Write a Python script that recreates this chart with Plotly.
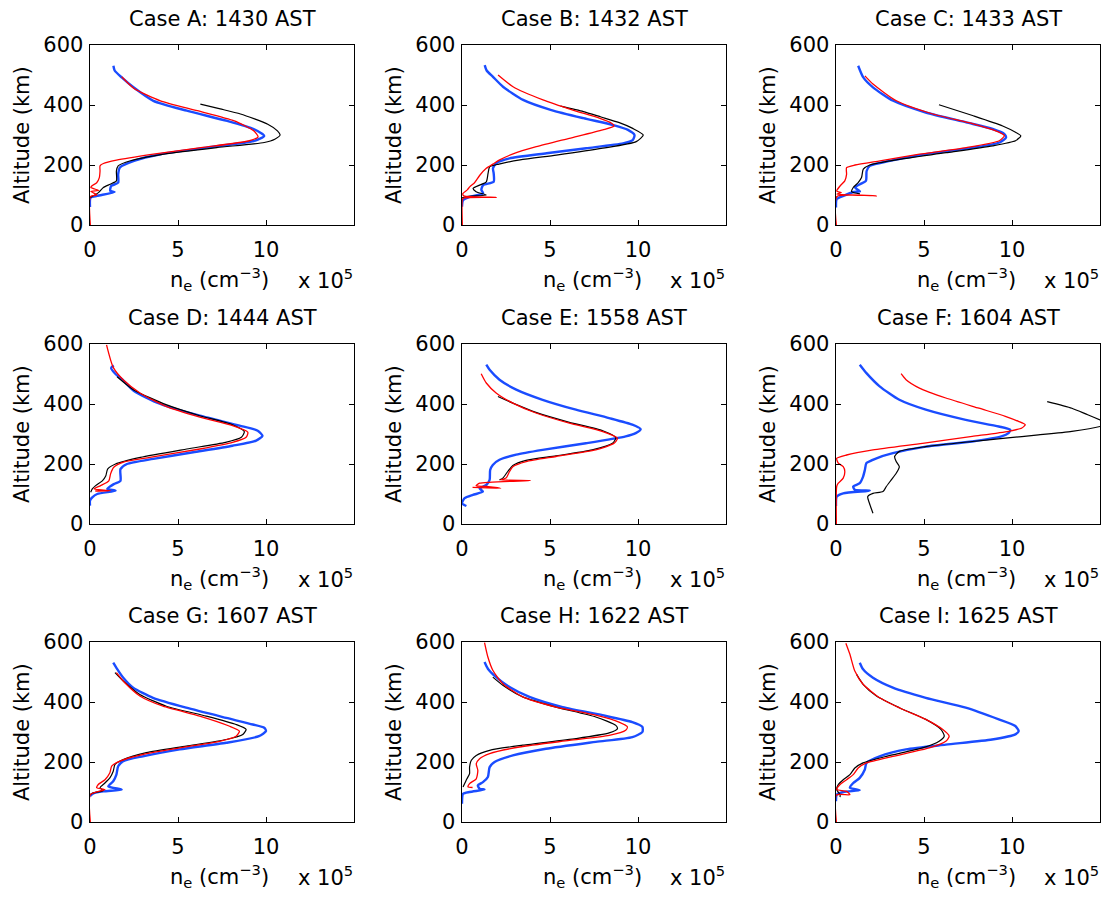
import plotly.graph_objects as go

# ---------------- data: (ne [x1e5 cm^-3], altitude [km]) ----------------
CASES = ["Case A: 1430 AST", "Case B: 1432 AST", "Case C: 1433 AST",
         "Case D: 1444 AST", "Case E: 1558 AST", "Case F: 1604 AST",
         "Case G: 1607 AST", "Case H: 1622 AST", "Case I: 1625 AST"]

X_TICKS = [0, 5, 10]
Y_TICKS = [0, 200, 400, 600]

A_BLUE = [(1.33,531),(1.4,515),(1.8,492),(2.47,459),(3.6,414),(5.5,381),(7.8,347),(9.3,320),(9.9,297),(9.3,280),(6.65,258),(4.0,236),(2.5,214),(1.7,192),(1.6,169),(1.6,141),(1.2,130),(1.15,114),(1.4,110),(0.4,97),(0.03,91),(0.0,60)]
A_RED = [(1.8,494),(2.5,455),(4.0,414),(6.1,381),(8.2,347),(9.3,314),(9.55,294),(9.0,280),(6.3,258),(3.6,236),(1.5,216),(0.76,205),(0.57,197),(0.57,180),(0.53,158),(0.38,141),(0.1,130),(0.05,125),(0.5,115),(0.05,112),(0.4,100),(0.02,95),(0.02,0)]
A_BLACK = [(6.27,403),(7.4,387),(8.55,370),(10.1,336),(10.65,314),(10.8,300),(10.5,286),(9.9,275),(7.2,258),(4.2,236),(2.3,214),(1.6,197),(1.5,180),(1.5,147),(1.15,136),(0.76,125),(0.48,108),(0.0,91)]

B_BLUE = [(1.29,533),(1.4,515),(1.76,494),(2.33,461),(3.47,417),(5.08,383),(6.9,356),(8.6,333),(9.43,317),(9.8,300),(9.7,283),(9.15,272),(7.06,256),(4.8,239),(2.7,222),(1.95,206),(1.76,189),(1.8,172),(1.8,144),(1.2,133),(1.1,117),(1.2,106),(0.44,94),(0.06,83),(0.0,61)]
B_RED = [(2.05,500),(2.9,461),(4.6,417),(6.3,383),(7.8,356),(8.5,339),(8.64,330),(8.0,317),(6.1,289),(4.22,261),(2.9,237),(2.14,217),(1.76,203),(1.38,189),(1.0,165),(0.7,140),(0.45,128),(0.3,117),(0.05,105),(0.1,97),(1.95,92),(0.1,90),(0.02,85),(0.02,0)]
B_BLACK = [(5.6,396),(6.9,378),(7.9,360),(8.9,342),(9.7,322),(10.3,300),(9.9,278),(8.0,256),(5.36,233),(3.3,217),(2.1,203),(1.57,194),(1.48,172),(1.38,144),(1.0,133),(0.63,122),(0.8,111),(1.38,100),(0.3,95),(0.0,90)]

C_BLUE = [(1.26,531),(1.55,492),(2.1,459),(3.25,414),(5.1,375),(7.4,342),(8.9,320),(9.57,303),(9.66,292),(9.3,275),(7.8,258),(5.1,236),(3.06,214),(1.92,197),(1.74,180),(1.7,147),(1.36,136),(1.08,125),(1.36,112),(1.0,110),(0.42,97),(0.04,86),(0.0,58)]
C_RED = [(1.64,497),(2.1,470),(3.43,414),(5.5,370),(7.8,337),(9.28,309),(9.57,298),(9.28,281),(7.4,258),(4.75,236),(2.5,214),(1.08,200),(0.6,191),(0.6,169),(0.5,147),(0.23,130),(0.04,113),(0.3,108),(0.05,103),(2.3,97),(0.05,95),(0.02,0)]
C_BLACK = [(5.85,401),(7.8,364),(9.47,330),(10.2,309),(10.5,297),(10.2,281),(8.9,264),(6.26,241),(3.6,219),(1.92,200),(1.55,186),(1.45,158),(1.26,141),(0.98,125),(0.89,111),(1.36,104)]

D_BLUE = [(1.35,528),(1.2,520),(1.45,500),(1.9,478),(2.48,444),(4.0,400),(6.24,361),(8.5,328),(9.53,311),(9.8,294),(9.44,278),(8.1,261),(5.86,239),(3.6,217),(2.1,200),(1.73,183),(1.73,144),(1.35,133),(0.98,117),(1.45,111),(0.41,100),(0.13,89),(0.0,78),(0.0,61)]
D_RED = [(0.94,597),(1.32,522),(1.9,480),(2.86,436),(4.36,391),(6.24,356),(8.1,328),(8.97,306),(8.87,289),(8.1,272),(6.24,250),(3.4,222),(1.9,206),(1.35,189),(1.17,167),(1.07,144),(0.6,128),(0.23,117),(1.17,111),(0.3,110)]
D_BLACK = [(1.54,491),(2.48,447),(4.36,397),(6.24,361),(8.1,331),(8.77,308),(8.6,289),(7.7,272),(5.5,250),(2.86,222),(1.45,200),(1.0,183),(0.9,161),(0.7,144),(0.32,128),(0.13,117),(0.04,106)]

E_BLUE = [(1.38,531),(1.57,514),(2.13,481),(3.08,448),(4.58,414),(6.47,381),(8.36,353),(9.68,331),(10.15,316),(9.87,303),(9.3,292),(7.04,269),(4.58,247),(3.08,231),(2.13,214),(1.75,197),(1.6,180),(1.57,147),(1.38,130),(1.0,119),(1.19,108),(0.62,97),(0.15,86),(0.0,69),(0.25,60)]
E_RED = [(1.09,501),(1.38,470),(1.94,437),(2.89,403),(4.2,370),(6.1,336),(8.0,308),(8.83,286),(8.64,269),(7.6,247),(5.34,225),(3.64,208),(2.89,191),(2.7,175),(2.5,153),(2.2,147),(3.9,145),(1.0,136),(0.8,127),(1.38,125),(2.2,119),(0.6,122)]
E_BLACK = [(2.04,425),(2.89,403),(4.2,372),(6.1,339),(8.0,311),(8.74,288),(8.55,269),(7.4,247),(5.34,227),(3.64,212),(2.89,195),(2.6,175),(2.32,153),(2.13,147)]

F_BLUE = [(1.35,531),(1.73,503),(2.48,459),(3.6,414),(5.1,381),(7.37,347),(9.25,325),(9.9,314),(9.8,303),(9.4,292),(7.74,275),(5.1,258),(3.23,236),(2.3,219),(1.73,203),(1.64,180),(1.54,158),(1.35,136),(0.98,125),(1.07,114),(1.92,111),(0.41,102),(0.04,91),(0.0,60)]
F_RED = [(3.7,501),(3.98,481),(4.74,453),(6.24,420),(8.12,386),(9.62,359),(10.37,342),(10.75,331),(10.56,320),(9.8,309),(7.74,292),(4.92,269),(2.1,247),(0.6,230),(0.04,219),(0.13,203),(0.41,191),(0.5,175),(0.41,153),(0.13,136),(0.04,125),(0.02,0)]
F_BLACK = [(12.0,408),(13.4,386),(14.3,364),(15.0,347),(15.5,335),(15.0,325),(13.4,309),(11.5,297),(9.62,286),(7.74,275),(5.1,258),(3.6,242),(3.33,225),(3.42,208),(3.6,191),(3.42,169),(3.14,147),(2.86,125),(2.67,108),(2.1,102),(1.8,91),(1.9,69),(2.1,36)]

G_BLUE = [(1.32,531),(1.5,514),(1.89,481),(2.45,448),(3.58,414),(5.47,381),(7.74,347),(9.25,325),(9.9,314),(10.0,303),(9.6,286),(7.74,264),(5.1,242),(3.0,219),(1.89,203),(1.6,186),(1.5,158),(1.32,136),(1.04,119),(1.8,108),(0.75,102),(0.19,95),(0.0,86)]
G_RED = [(1.5,498),(1.98,464),(2.83,420),(4.15,386),(6.23,353),(7.9,320),(8.49,303),(8.3,286),(7.36,269),(5.1,247),(3.0,225),(1.7,203),(1.23,186),(1.13,164),(0.85,141),(0.47,125),(0.38,114),(0.85,108),(0.02,91),(0.02,0)]
G_BLACK = [(1.42,498),(1.89,470),(2.83,425),(4.34,386),(6.6,353),(8.3,325),(8.87,309),(8.68,292),(7.74,275),(5.47,253),(3.2,231),(1.89,208),(1.42,192),(1.32,169),(1.13,147),(0.85,130),(0.57,114),(0.75,105),(0.19,97),(0.0,91)]

H_BLUE = [(1.28,533),(1.47,511),(1.94,483),(2.7,450),(3.83,417),(5.72,383),(7.98,356),(9.68,333),(10.25,317),(10.25,300),(9.68,283),(7.6,267),(4.77,244),(2.89,222),(1.85,200),(1.57,183),(1.47,150),(1.19,133),(0.9,122),(1.0,111),(1.28,108),(0.43,100),(0.06,94),(0.0,61)]
H_RED = [(1.28,598),(1.47,550),(1.75,506),(2.32,461),(3.45,417),(5.34,383),(7.6,356),(8.92,333),(9.4,317),(9.3,306),(8.36,289),(6.1,272),(3.26,250),(1.57,228),(1.0,211),(0.81,194),(0.9,172),(0.81,144),(0.43,128),(0.34,117),(0.6,115)]
H_BLACK = [(1.75,483),(2.32,456),(3.45,417),(5.34,383),(7.6,350),(8.74,322),(8.83,311),(8.36,297),(6.47,278),(3.45,256),(1.57,239),(0.81,222),(0.53,206),(0.43,183),(0.43,161),(0.28,144),(0.15,128),(0.06,117)]

I_BLUE = [(1.35,531),(1.54,509),(2.1,481),(3.23,448),(5.1,414),(7.37,381),(9.25,342),(10.19,320),(10.38,303),(10.19,292),(8.87,275),(6.24,258),(3.98,242),(2.48,219),(1.73,197),(1.64,175),(1.35,147),(0.98,130),(0.79,114),(1.35,106),(0.41,100),(0.04,91),(0.0,69)]
I_RED = [(0.56,596),(0.79,559),(1.07,503),(1.54,459),(2.48,414),(3.8,375),(5.1,342),(6.05,309),(6.43,286),(6.24,269),(5.3,247),(3.23,219),(1.73,197),(1.26,180),(0.98,158),(0.6,141),(0.23,125),(0.04,108),(0.6,102),(0.79,91),(0.02,90),(0.02,0)]
I_BLACK = [(1.17,492),(1.54,459),(2.3,420),(3.6,381),(5.1,342),(5.96,309),(6.15,286),(5.86,269),(4.92,247),(2.86,219),(1.54,197),(1.07,180),(0.79,158),(0.41,141),(0.13,125),(0.04,108),(0.23,91),(0.23,83)]

PANELS = [(A_BLUE, A_BLACK, A_RED), (B_BLUE, B_BLACK, B_RED), (C_BLUE, C_BLACK, C_RED),
          (D_BLUE, D_BLACK, D_RED), (E_BLUE, E_BLACK, E_RED), (F_BLUE, F_BLACK, F_RED),
          (G_BLUE, G_BLACK, G_RED), (H_BLUE, H_BLACK, H_RED), (I_BLUE, I_BLACK, I_RED)]

# ---------------- layout geometry (pixels) ----------------
W, H = 1105, 898
COL_L = [90, 462, 836]
ROW_T = [45, 344, 642]
AX_W, AX_H = 264, 180
FONT = "DejaVu Sans"
FS = 21

STYLES = [dict(color="#1a4cff", width=2.4, shape="spline", smoothing=0.6),
          dict(color="black", width=1.2, shape="spline", smoothing=0.6),
          dict(color="#ff0000", width=1.3, shape="spline", smoothing=0.6)]

fig = go.Figure()
annotations = []
layout = dict(width=W, height=H, autosize=False,
              margin=dict(l=0, r=0, t=0, b=0, pad=0, autoexpand=False),
              paper_bgcolor="white", plot_bgcolor="white", showlegend=False,
              font=dict(family=FONT, size=FS, color="black"))

for i, curves in enumerate(PANELS):
    r, c = divmod(i, 3)
    n = "" if i == 0 else str(i + 1)
    L, T = COL_L[c], ROW_T[r]
    for pts, st in zip(curves, STYLES):
        fig.add_trace(go.Scatter(x=[p[0] for p in pts], y=[p[1] for p in pts], mode="lines",
                                 line=st, xaxis="x" + n, yaxis="y" + n, hoverinfo="skip"))
    common = dict(showline=True, linecolor="black", linewidth=1.4, mirror="ticks", ticks="inside",
                  ticklen=5, tickwidth=1, tickcolor="black", showgrid=False, zeroline=False,
                  automargin=False, tickfont=dict(family=FONT, size=FS, color="black"),
                  fixedrange=True)
    layout["xaxis" + n] = dict(common, domain=[L / W, (L + AX_W) / W], range=[0, 15],
                               tickvals=X_TICKS, ticktext=[str(v) for v in X_TICKS],
                               anchor="y" + n, ticklabelstandoff=5)
    layout["yaxis" + n] = dict(common, domain=[1 - (T + AX_H) / H, 1 - T / H], range=[0, 600],
                               tickvals=Y_TICKS, ticktext=[str(v) for v in Y_TICKS],
                               anchor="x" + n, ticklabelstandoff=1)
    cx = (L + AX_W / 2) / W
    annotations.append(dict(text=CASES[i], x=cx, y=1 - (T - 26) / H, xref="paper", yref="paper",
                            xanchor="center", yanchor="middle", showarrow=False,
                            font=dict(family=FONT, size=FS)))
    annotations.append(dict(text="Altitude (km)", x=(L - 68) / W, y=1 - (T + AX_H / 2) / H,
                            xref="paper", yref="paper", xanchor="center", yanchor="middle",
                            textangle=-90, showarrow=False, font=dict(family=FONT, size=FS)))
    annotations.append(dict(text="n<sub>e</sub> (cm<sup>−3</sup>)", x=(L + AX_W / 2 - 2) / W,
                            y=1 - (T + 234) / H, xref="paper", yref="paper", xanchor="center",
                            yanchor="middle", showarrow=False, font=dict(family=FONT, size=FS)))
    annotations.append(dict(text="x 10<sup>5</sup>", x=(L + AX_W + 1) / W, y=1 - (T + 234) / H,
                            xref="paper", yref="paper", xanchor="right", yanchor="middle",
                            showarrow=False, font=dict(family=FONT, size=FS)))

layout["annotations"] = annotations
fig.update_layout(**layout)
fig.write_html("out.html", config={"displayModeBar": False, "staticPlot": True},
               post_script="document.body.style.margin='0';document.body.style.padding='0';")
